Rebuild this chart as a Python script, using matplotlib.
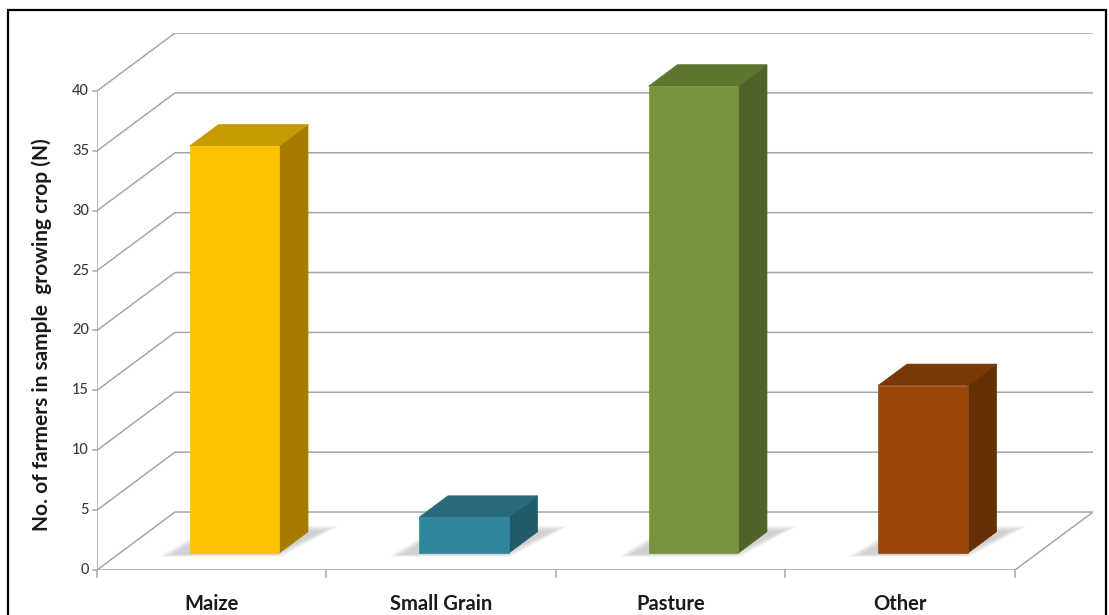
import matplotlib
matplotlib.use("Agg")
import matplotlib.pyplot as plt
import numpy as np
from matplotlib.patches import Polygon, Rectangle

# crop counts
categories = ["Maize", "Small Grain", "Pasture", "Other"]
farmers = [34, 3, 39, 14]
y_ticks = [0, 5, 10, 15, 20, 25, 30, 35, 40]

front_colors = ["#FDC200", "#31869B", "#78933B", "#9A4709"]
side_colors = ["#A57C00", "#215A69", "#4F6228", "#632F05"]
top_colors = ["#C69A00", "#276B7B", "#5E7530", "#7A3806"]

# oblique depth offset (data units for full depth)
DX = 0.34
DY = 4.84
BAR_W = 0.39
D0, D1 = 0.29, 0.66
grid_col = "#A6A6A6"
FONT = "Lato"


def proj(x, y, d):
    return (x + d * DX, y + d * DY)


W, H = 1109, 615
fig = plt.figure(figsize=(W / 100, H / 100), dpi=100)
ax = fig.add_axes([97 / W, (H - 570) / H, (1093 - 97) / W, (570 - 33) / H])
n = len(categories)
ax.set_xlim(-0.5, n - 0.5 + DX)
ax.set_ylim(0, 40 + DY)
for s in ["top", "right", "bottom", "left"]:
    ax.spines[s].set_visible(False)
ax.set_xticks([])
ax.set_yticks([])

# back wall, side wall and floor lines
for v in y_ticks:
    pts = [proj(-0.5, v, 0), proj(-0.5, v, 1), proj(n - 0.5, v, 1)]
    if v == 0:
        pts.append(proj(n - 0.5, 0, 0))
    xs, ys = zip(*pts)
    ax.plot(xs, ys, color=grid_col, lw=1.1, zorder=1, solid_capstyle="butt")

# front axes
ax.plot([-0.5, -0.5], [0, 40], color=grid_col, lw=1.1, zorder=2)
ax.plot([-0.5, n - 0.5], [0, 0], color=grid_col, lw=1.1, zorder=2)
for v in y_ticks:
    ax.plot([-0.5 - 0.018, -0.5], [v, v], color=grid_col, lw=1.1, zorder=2, clip_on=False)
    ax.text(-0.5 - 0.035, v, str(v), ha="right", va="center", fontsize=10.5,
            color="#3a3a3a", family=FONT, fontweight="medium")
for k in range(n + 1):
    ax.plot([k - 0.5, k - 0.5], [0, -0.6], color=grid_col, lw=1.1, zorder=2, clip_on=False)
for i, c in enumerate(categories):
    ax.text(i, -2.85, c, ha="center", va="center", fontsize=14.5, fontweight="bold",
            color="#1a1a1a", family=FONT)

# bars
for i, v in enumerate(farmers):
    x0, x1 = i - BAR_W / 2, i + BAR_W / 2
    # soft floor shadow, slightly to the left of the footprint
    for k in range(5):
        g = 0.01 * (5 - k)
        shp = [proj(x0 - 0.06 - g, 0, D0 - 0.01 - g),
               proj(x1 - 0.02 + g, 0, D0 - 0.01 - g),
               proj(x1 + 0.05 + g, 0, D1 + g * 2),
               proj(x0 - 0.02 - g, 0, D1 + g * 2)]
        ax.add_patch(Polygon(shp, closed=True, facecolor="#707070", alpha=0.07,
                             edgecolor="none", zorder=3))
    front = [proj(x0, 0, D0), proj(x1, 0, D0), proj(x1, v, D0), proj(x0, v, D0)]
    side = [proj(x1, 0, D0), proj(x1, 0, D1), proj(x1, v, D1), proj(x1, v, D0)]
    top = [proj(x0, v, D0), proj(x1, v, D0), proj(x1, v, D1), proj(x0, v, D1)]
    ax.add_patch(Polygon(side, closed=True, facecolor=side_colors[i], edgecolor=side_colors[i],
                         lw=0.5, zorder=4))
    ax.add_patch(Polygon(top, closed=True, facecolor=top_colors[i], edgecolor=top_colors[i],
                         lw=0.5, zorder=4))
    ax.add_patch(Polygon(front, closed=True, facecolor=front_colors[i], edgecolor=front_colors[i],
                         lw=0.5, zorder=5))

fig.text(42 / W, 1 - 335 / H, "No. of farmers in sample  growing crop (N)", rotation=90,
         ha="center", va="center", fontsize=15, fontweight="bold", color="#1a1a1a",
         family=FONT)

# outer frame
fig.patches.append(Rectangle((8 / W, -0.05), (1106 - 8) / W, 1.05 - 10 / H,
                             transform=fig.transFigure, fill=False, edgecolor="black",
                             lw=1.6, clip_on=False))

fig.savefig("out.png", dpi=100)
